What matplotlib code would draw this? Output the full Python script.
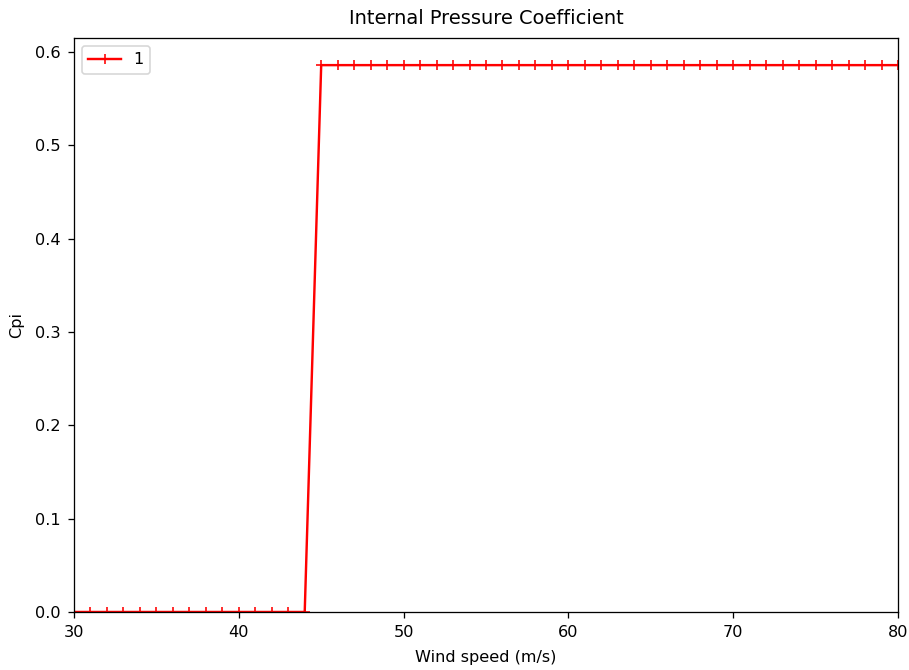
import matplotlib
matplotlib.use("Agg")
import matplotlib.pyplot as plt

# wind speeds (m/s) and internal pressure coefficient
wind_speed = [30, 31, 32, 33, 34, 35, 36, 37, 38, 39, 40, 41, 42, 43, 44,
              45, 46, 47, 48, 49, 50, 51, 52, 53, 54, 55, 56, 57, 58, 59,
              60, 61, 62, 63, 64, 65, 66, 67, 68, 69, 70, 71, 72, 73, 74,
              75, 76, 77, 78, 79, 80]
cpi = [0.0] * 15 + [0.586] * 36

dpi = 116
fig = plt.figure(figsize=(909 / dpi, 670 / dpi), dpi=dpi)
ax = fig.add_axes([0.0814, 0.0866, 0.9065, 0.857])

ax.plot(wind_speed, cpi, color='red', marker='+', label='1')
ax.set_xlim(30, 80)
ax.set_ylim(0, max(cpi) * 1.05)
ax.tick_params(pad=4.5)
ax.set_title("Internal Pressure Coefficient", pad=8.5)
ax.set_xlabel("Wind speed (m/s)", labelpad=6)
ax.set_ylabel("Cpi", labelpad=7)
ax.legend(loc='upper left')

fig.savefig("out.png", dpi=dpi)
